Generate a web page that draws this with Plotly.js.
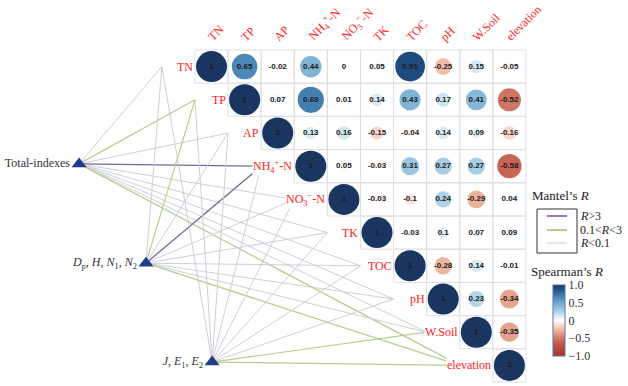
<!DOCTYPE html>
<html><head><meta charset="utf-8">
<script src="https://cdn.plot.ly/plotly-3.0.1.min.js"></script>
<style>html,body{margin:0;padding:0;background:#fff}</style>
</head><body><div id="chart" style="width:628px;height:386px"></div>
<script>
// ---- data ----
const variables = ['TN','TP','AP','NH<sub>4</sub><sup>+</sup>-N','NO<sub>3</sub><sup>−</sup>-N','TK','TOC','pH','W.Soil','elevation'];
// upper-triangle Spearman correlations, each row starts at the diagonal
const rowTN   = [1, 0.65, -0.02, 0.44, 0, 0.05, 0.91, -0.25, 0.15, -0.05];
const rowTP   = [1, 0.07, 0.69, 0.01, 0.14, 0.43, 0.17, 0.41, -0.52];
const rowAP   = [1, 0.13, 0.16, -0.15, -0.04, 0.14, 0.09, -0.16];
const rowNH4  = [1, 0.05, -0.03, 0.31, 0.27, 0.27, -0.58];
const rowNO3  = [1, -0.03, -0.1, 0.24, -0.29, 0.04];
const rowTK   = [1, -0.03, 0.1, 0.07, 0.09];
const rowTOC  = [1, -0.28, 0.14, -0.01];
const rowPH   = [1, 0.23, -0.34];
const rowWSoil= [1, -0.35];
const rowElev = [1];
const corrRows = [rowTN,rowTP,rowAP,rowNH4,rowNO3,rowTK,rowTOC,rowPH,rowWSoil,rowElev];

const mantelGroups = ['Total-indexes',
  '<i>D</i><sub>p</sub>, <i>H</i>, <i>N</i><sub>1</sub>, <i>N</i><sub>2</sub>',
  '<i>J</i>, <i>E</i><sub>1</sub>, <i>E</i><sub>2</sub>'];
const mantelClasses = ['R>3','0.1<R<3','R<0.1'];
// Mantel R class of each group against each variable (TN ... elevation)
const mantelTotal     = ['R<0.1','0.1<R<3','R<0.1','R>3','R<0.1','R<0.1','R<0.1','R<0.1','R<0.1','0.1<R<3'];
const mantelDiversity = ['R<0.1','0.1<R<3','R<0.1','R>3','R<0.1','R<0.1','R<0.1','R<0.1','R<0.1','0.1<R<3'];
const mantelEvenness  = ['R<0.1','R<0.1','R<0.1','R<0.1','R<0.1','R<0.1','R<0.1','R<0.1','0.1<R<3','0.1<R<3'];
const mantelRows = [mantelTotal, mantelDiversity, mantelEvenness];

// ---- styling / layout ----
const classStyle = {
  'R>3':     {color:'#75689a', width:1.3},
  '0.1<R<3': {color:'#b9cc92', width:1.2},
  'R<0.1':   {color:'#c6c9d2', width:0.9}
};
const nodePos = [[-4.0, 2.93], [-1.98, 5.92], [0.02, 8.9]];
const colorscale = [
  [0,'#a8302c'],[0.2,'#c4604f'],[0.325,'#e6a18c'],[0.375,'#f2bda8'],[0.5,'#ffffff'],
  [0.575,'#d6e8f2'],[0.625,'#acd0e5'],[0.72,'#7eb3d4'],[0.825,'#4b88b8'],[0.95,'#1f4c80'],[1,'#1b3561']
];
const serif = '"Liberation Serif", "Times New Roman", serif';
const red = '#ff2222';

const traces = [];
const shapes = [];
const annotations = [];

// grid cells
corrRows.forEach((row,i)=>{
  row.forEach((v,k)=>{
    const j=i+k;
    shapes.push({type:'rect', xref:'x', yref:'y', x0:j-0.5, x1:j+0.5, y0:i-0.5, y1:i+0.5,
      line:{color:'#dcdfe4', width:1}, layer:'below'});
  });
});

// Mantel lines
mantelRows.forEach((classes,g)=>{
  classes.forEach((c,i)=>{
    traces.push({type:'scatter', mode:'lines', x:[nodePos[g][0], i-1.5], y:[nodePos[g][1], i],
      line:{color:classStyle[c].color, width:classStyle[c].width}, hoverinfo:'skip', showlegend:false});
  });
});

// circles + values
const cx=[], cy=[], cv=[], cs=[], ct=[];
corrRows.forEach((row,i)=>{
  row.forEach((v,k)=>{
    cx.push(i+k); cy.push(i); cv.push(v);
    cs.push(31*Math.pow(Math.abs(v),0.45));
    ct.push(String(v));
  });
});
traces.push({type:'scatter', mode:'markers', x:cx, y:cy, hoverinfo:'skip', showlegend:false,
  marker:{size:cs, color:cv, colorscale:colorscale, cmin:-1, cmax:1, line:{width:0}, opacity:1,
    showscale:true,
    colorbar:{x:553/628, xanchor:'left', y:1-285/386, yanchor:'top', len:71, lenmode:'pixels',
      thickness:12, thicknessmode:'pixels', xpad:0, ypad:0, outlinewidth:1, outlinecolor:'#5a74ad',
      tickvals:[-1,-0.5,0,0.5,1], ticktext:['−1.0','−0.5','0','0.5','1.0'], ticks:'',
      tickfont:{family:serif, size:12, color:'#333'}, borderwidth:0}
  }});
traces.push({type:'scatter', mode:'text', x:cx, y:cy, text:ct, hoverinfo:'skip', showlegend:false,
  textfont:{family:'"Liberation Sans", Arial, sans-serif', size:8, color:'#1a1a1a', weight:'bold'}});

// nodes
traces.push({type:'scatter', mode:'markers+text', x:nodePos.map(p=>p[0]), y:nodePos.map(p=>p[1]),
  text:mantelGroups, textposition:'middle left', hoverinfo:'skip', showlegend:false,
  marker:{symbol:'triangle-up', size:13, color:'#1f3c88'},
  textfont:{family:serif, size:12, color:'#333'}});

// diagonal labels and top labels
variables.forEach((name,i)=>{
  annotations.push({x:i-0.5, y:i, xref:'x', yref:'y', text:name, showarrow:false,
    xanchor:'right', yanchor:'middle', xshift:-1, bgcolor:'#ffffff', borderpad:0,
    font:{family:serif, size:12, color:red}});
  annotations.push({x:i-0.27, y:-0.6, xref:'x', yref:'y', text:name, showarrow:false,
    textangle:-45, xanchor:'left', yanchor:'bottom',
    font:{family:serif, size:12, color:red}});
});

// Mantel legend
const px = v=>v/628, py = v=>1-v/386;
shapes.push({type:'rect', xref:'paper', yref:'paper', x0:px(537), x1:px(577), y0:py(209), y1:py(253),
  line:{color:'#333', width:1}});
const legendY = [216, 230, 243];
const legendText = ['<i>R</i>>3','0.1&lt;<i>R</i>&lt;3','<i>R</i>&lt;0.1'];
const legendColors = ['#7b4c93','#99c468','#dedede'];
mantelClasses.forEach((c,k)=>{
  shapes.push({type:'line', xref:'paper', yref:'paper', x0:px(547), x1:px(567), y0:py(legendY[k]), y1:py(legendY[k]),
    line:{color:legendColors[k], width:1.5}});
  annotations.push({xref:'paper', yref:'paper', x:px(578), y:py(legendY[k]), text:legendText[k],
    showarrow:false, xanchor:'left', yanchor:'middle', font:{family:serif, size:12, color:'#222'}});
});
annotations.push({xref:'paper', yref:'paper', x:px(560), y:py(195), text:'Mantel’s <i>R</i>', showarrow:false,
  xanchor:'center', yanchor:'middle', font:{family:serif, size:13, color:'#222'}});
annotations.push({xref:'paper', yref:'paper', x:px(567), y:py(271), text:'Spearman’s <i>R</i>', showarrow:false,
  xanchor:'center', yanchor:'middle', font:{family:serif, size:13, color:'#222'}});

const layout = {
  width:628, height:386, margin:{l:0,r:0,t:0,b:0, autoexpand:false},
  paper_bgcolor:'#fff', plot_bgcolor:'#fff', showlegend:false, hovermode:false,
  xaxis:{range:[-211.5/33.1, (628-211.5)/33.1], visible:false, fixedrange:true},
  yaxis:{range:[(386-66.6)/33.2, -66.6/33.2], visible:false, fixedrange:true},
  shapes:shapes, annotations:annotations
};
Plotly.newPlot('chart', traces, layout, {displayModeBar:false, staticPlot:true});
</script></body></html>
